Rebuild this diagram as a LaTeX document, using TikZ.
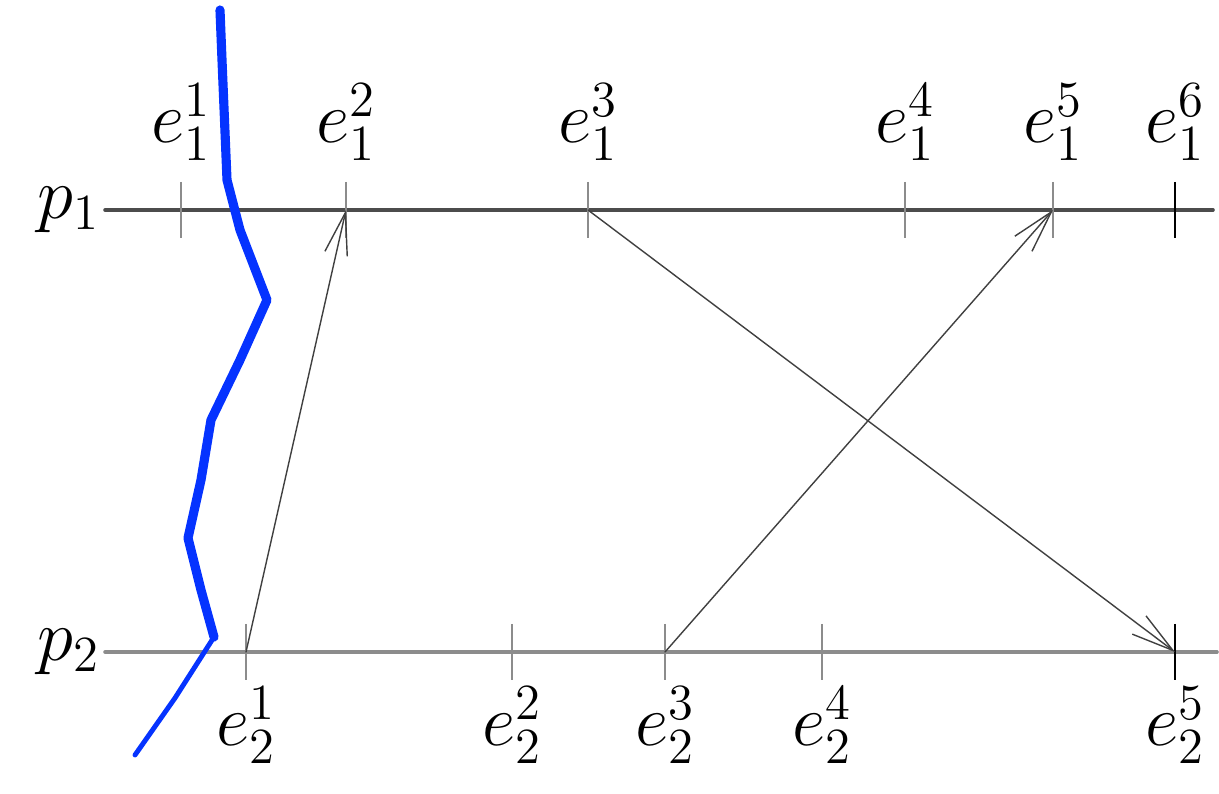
\documentclass[tikz,border=0pt]{standalone}
\usepackage{tkz-euclide}
\usetikzlibrary{arrows.meta}
\definecolor{CutClr}{rgb}{0.02,0.2,1}
\definecolor{ProcClr}{rgb}{0.3,0.3,0.3}
\definecolor{TickClr}{rgb}{0.55,0.55,0.55}
\tikzset{
  proc/.style={line width=1pt,color=ProcClr},
  tick/.style={line width=0.6pt,color=TickClr},
  msg/.style={line width=0.4pt,color=black!75,-{Straight Barb[length=12pt,width=6.5pt]}},
  cut/.style={color=CutClr,line join=round,line cap=round}
}

\begin{document}
\begin{tikzpicture}[x=0.01cm,y=0.01cm]
\useasboundingbox (0,0) rectangle (1219,793);

\tkzDefPoints{105/583/A1,1213/583/B1,105/141/A2,1217/141/B2}
\tkzDefPoints{181/583/E11,346/583/E12,588/583/E13,905/583/E14,1053/583/E15,1175/583/E16}
\tkzDefPoints{246/141/E21,512/141/E22,665/141/E23,822/141/E24,1175/141/E25}

% process lines
\tkzDrawSegment[proc](A1,B1)
\tkzDrawSegment[proc,color=TickClr](A2,B2)

\foreach \p in {E11,E12,E13,E14,E15,E21,E22,E23,E24}
  \draw[tick] ([yshift=0.28cm]\p) -- ([yshift=-0.28cm]\p);
\foreach \p in {E16,E25}
  \draw[tick,color=black] ([yshift=0.28cm]\p) -- ([yshift=-0.28cm]\p);

% messages
\tkzDrawSegments[msg](E21,E12 E13,E25 E23,E15)

% cut
\draw[cut,line width=2.6pt] (220,783) -- (222,733) -- (227,613) -- (240,563)
  -- (267,493) -- (240,433) -- (211,373) -- (201,313) -- (188,255)
  -- (201,203) -- (214,156);
\draw[cut,line width=1.4pt] (214,156) -- (175,95) -- (135,38);

\tkzLabelPoint[left=-2pt](A1){\huge$p_1$}
\tkzLabelPoint[left=-2pt](A2){\huge$p_2$}

\tkzLabelPoint[above=0.37cm](E11){\huge$e_1^1$}
\tkzLabelPoint[above=0.37cm](E12){\huge$e_1^2$}
\tkzLabelPoint[above=0.37cm](E13){\huge$e_1^3$}
\tkzLabelPoint[above=0.37cm](E14){\huge$e_1^4$}
\tkzLabelPoint[above=0.37cm](E15){\huge$e_1^5$}
\tkzLabelPoint[above=0.37cm](E16){\huge$e_1^6$}

\tkzLabelPoint[below=0.22cm](E21){\huge$e_2^1$}
\tkzLabelPoint[below=0.22cm](E22){\huge$e_2^2$}
\tkzLabelPoint[below=0.22cm](E23){\huge$e_2^3$}
\tkzLabelPoint[below=0.22cm](E24){\huge$e_2^4$}
\tkzLabelPoint[below=0.22cm](E25){\huge$e_2^5$}

\end{tikzpicture}
\end{document}
